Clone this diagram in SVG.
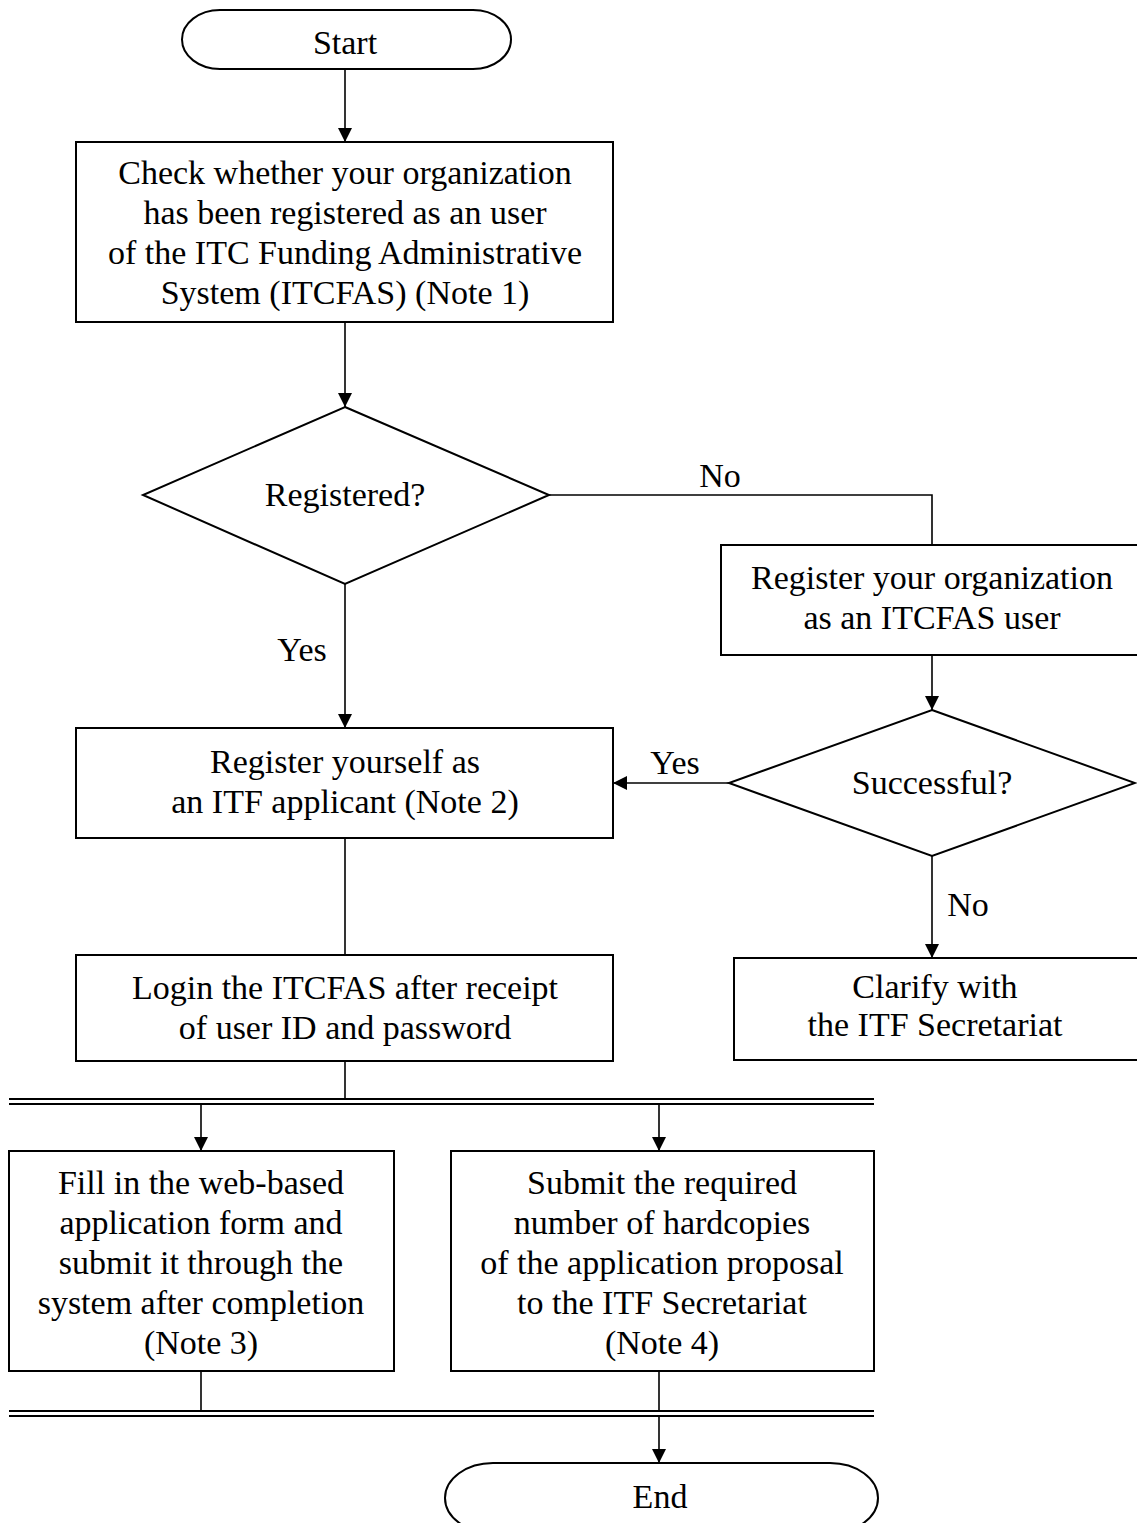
<svg xmlns="http://www.w3.org/2000/svg" width="1137" height="1523" viewBox="0 0 1137 1523">
<defs>
<style>
.n{fill:#fff;stroke:#000;stroke-width:2}
.c{fill:none;stroke:#000;stroke-width:1.6}
.d{fill:none;stroke:#000;stroke-width:2.2}
text{font-family:"Liberation Serif","Times New Roman",serif;font-size:34px;fill:#000;text-anchor:middle}
</style>
<marker id="a" viewBox="0 0 14 14" refX="14" refY="7" markerWidth="15" markerHeight="14" markerUnits="userSpaceOnUse" orient="auto">
<path d="M0,0 L14,7 L0,14 Z" fill="#000"/>
</marker>
</defs>
<rect width="1137" height="1523" fill="#fff"/>
<g id="connectors">
<line class="c" x1="345" y1="69" x2="345" y2="142" marker-end="url(#a)"/>
<line class="c" x1="345" y1="322" x2="345" y2="407" marker-end="url(#a)"/>
<polyline class="c" points="549,495 932,495 932,545"/>
<line class="c" x1="345" y1="584" x2="345" y2="728" marker-end="url(#a)"/>
<line class="c" x1="932" y1="655" x2="932" y2="710" marker-end="url(#a)"/>
<line class="c" x1="729" y1="783" x2="613" y2="783" marker-end="url(#a)"/>
<line class="c" x1="932" y1="856" x2="932" y2="958" marker-end="url(#a)"/>
<line class="c" x1="345" y1="838" x2="345" y2="955"/>
<line class="c" x1="345" y1="1061" x2="345" y2="1099"/>
<line class="d" x1="9" y1="1099" x2="874" y2="1099"/>
<line class="d" x1="9" y1="1104" x2="874" y2="1104"/>
<line class="c" x1="201" y1="1104" x2="201" y2="1151" marker-end="url(#a)"/>
<line class="c" x1="659" y1="1104" x2="659" y2="1151" marker-end="url(#a)"/>
<line class="c" x1="201" y1="1371" x2="201" y2="1411"/>
<line class="c" x1="659" y1="1371" x2="659" y2="1411"/>
<line class="d" x1="9" y1="1411" x2="874" y2="1411"/>
<line class="d" x1="9" y1="1416" x2="874" y2="1416"/>
<line class="c" x1="659" y1="1416" x2="659" y2="1463" marker-end="url(#a)"/>
<text x="720" y="487">No</text>
<text x="302" y="661">Yes</text>
<text x="675" y="774">Yes</text>
<text x="968" y="916">No</text>
</g>
<g id="start">
<path class="n" d="M220,10 H473 A38,29.5 0 0 1 473,69 H220 A38,29.5 0 0 1 220,10 Z"/>
<text x="345" y="54">Start</text>
</g>
<g id="check">
<rect class="n" x="76" y="142" width="537" height="180"/>
<text x="345" y="184">Check whether your organization</text>
<text x="345" y="224">has been registered as an user</text>
<text x="345" y="264">of the ITC Funding Administrative</text>
<text x="345" y="304">System (ITCFAS) (Note 1)</text>
</g>
<g id="registered">
<polygon class="n" points="345,407 549,495 345,584 143,495"/>
<text x="345" y="506">Registered?</text>
</g>
<g id="register-org">
<rect class="n" x="721" y="545" width="420" height="110"/>
<text x="932" y="589">Register your organization</text>
<text x="932" y="629">as an ITCFAS user</text>
</g>
<g id="successful">
<polygon class="n" points="932,710 1135,783 932,856 729,783"/>
<text x="932" y="794">Successful?</text>
</g>
<g id="register-self">
<rect class="n" x="76" y="728" width="537" height="110"/>
<text x="345" y="773">Register yourself as</text>
<text x="345" y="813">an ITF applicant (Note 2)</text>
</g>
<g id="login">
<rect class="n" x="76" y="955" width="537" height="106"/>
<text x="345" y="999">Login the ITCFAS after receipt</text>
<text x="345" y="1039">of user ID and password</text>
</g>
<g id="clarify">
<rect class="n" x="734" y="958" width="407" height="102"/>
<text x="935" y="998">Clarify with</text>
<text x="935" y="1036">the ITF Secretariat</text>
</g>
<g id="fill-form">
<rect class="n" x="9" y="1151" width="385" height="220"/>
<text x="201" y="1194">Fill in the web-based</text>
<text x="201" y="1234">application form and</text>
<text x="201" y="1274">submit it through the</text>
<text x="201" y="1314">system after completion</text>
<text x="201" y="1354">(Note 3)</text>
</g>
<g id="submit-hardcopies">
<rect class="n" x="451" y="1151" width="423" height="220"/>
<text x="662" y="1194">Submit the required</text>
<text x="662" y="1234">number of hardcopies</text>
<text x="662" y="1274">of the application proposal</text>
<text x="662" y="1314">to the ITF Secretariat</text>
<text x="662" y="1354">(Note 4)</text>
</g>
<g id="end">
<path class="n" d="M493,1463 H830 A48,35 0 0 1 830,1533 H493 A48,35 0 0 1 493,1463 Z"/>
<text x="660" y="1508">End</text>
</g>
</svg>
